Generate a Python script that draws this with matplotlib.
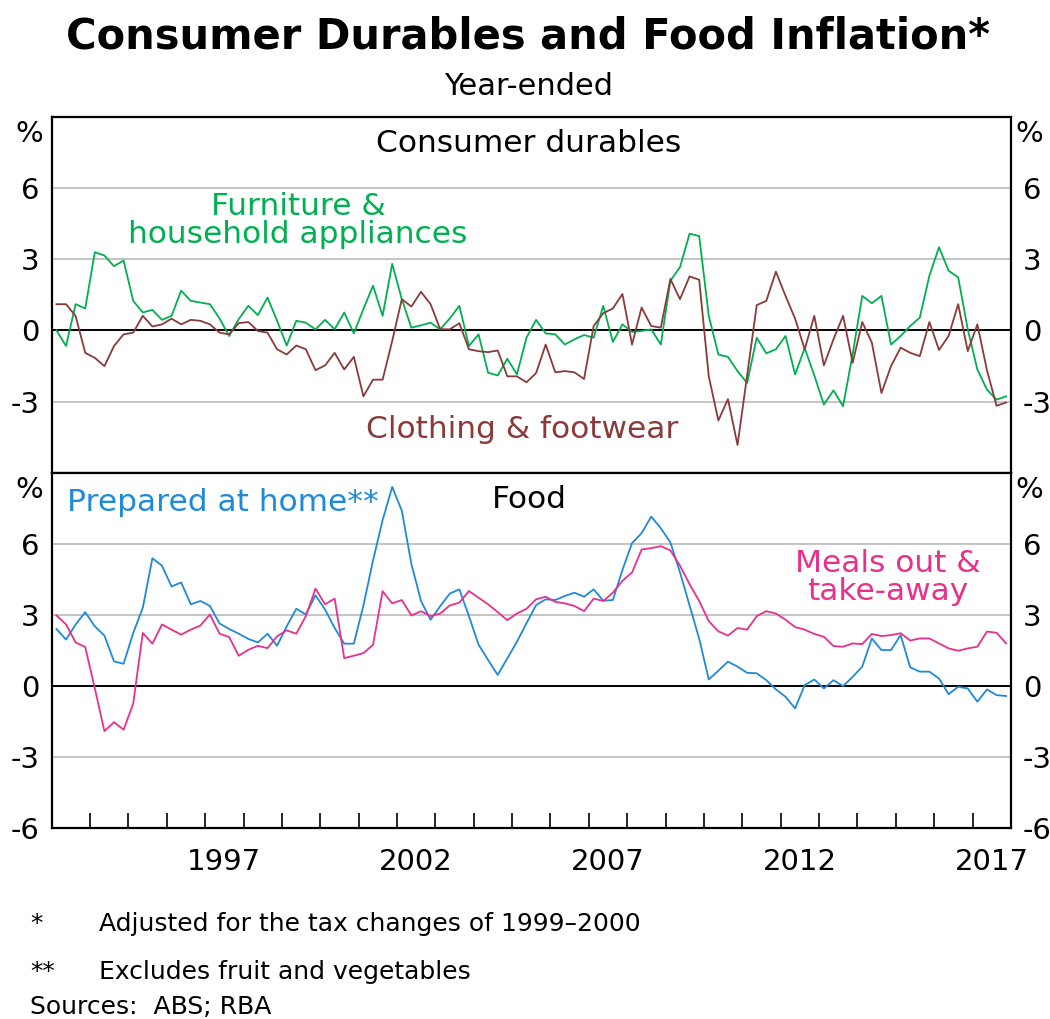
import numpy as np
import matplotlib
matplotlib.use("Agg")
import matplotlib.pyplot as plt
import matplotlib.transforms as mtransforms

plt.rcParams['font.family'] = ['DejaVu Sans']
plt.rcParams['axes.unicode_minus'] = False

# ======================
# DATA (year-ended %, quarterly, 1993Q1 - 2017Q4)
# ======================
start_year = 1993
furniture = [0.0, -0.66, 1.1, 0.92, 3.29, 3.15, 2.7, 2.94, 1.24, 0.75,
             0.86, 0.44, 0.61, 1.67, 1.24, 1.17, 1.1, 0.5, -0.24, 0.47,
             1.03, 0.64, 1.38, 0.4, -0.64, 0.4, 0.32, 0.04, 0.44, 0.04,
             0.75, -0.13, 0.9, 1.88, 0.61, 2.8, 1.31, 0.11, 0.21, 0.32,
             0.04, 0.5, 1.03, -0.66, -0.17, -1.79, -1.9, -1.2, -1.86, -0.31,
             0.44, -0.13, -0.17, -0.6, -0.38, -0.2, -0.31, 1.03, -0.49, 0.25,
             -0.07, -0.03, 0.04, -0.6, 2.09, 2.66, 4.07, 3.97, 0.61, -1.02,
             -1.12, -1.72, -2.22, -0.31, -0.97, -0.8, -0.24, -1.86, -0.75, -1.9,
             -3.13, -2.53, -3.2, -1.0, 1.45, 1.14, 1.45, -0.6, -0.24, 0.18,
             0.54, 2.3, 3.5, 2.51, 2.23, 0.04, -1.65, -2.5, -2.92, -2.78]
clothing = [1.1, 1.1, 0.6, -0.95, -1.16, -1.51, -0.66, -0.17, -0.1, 0.61,
            0.16, 0.25, 0.49, 0.25, 0.44, 0.4, 0.25, -0.1, -0.17, 0.3,
            0.35, -0.03, -0.1, -0.8, -1.02, -0.64, -0.8, -1.68, -1.48, -0.95,
            -1.65, -1.12, -2.78, -2.08, -2.08, -0.45, 1.31, 1.0, 1.62, 1.1,
            0.05, 0.04, 0.3, -0.8, -0.88, -0.92, -0.85, -1.94, -1.94, -2.19,
            -1.8, -0.6, -1.77, -1.72, -1.77, -2.05, 0.18, 0.72, 0.92, 1.53,
            -0.6, 0.96, 0.18, 0.11, 2.16, 1.31, 2.27, 2.13, -1.94, -3.8,
            -2.9, -4.83, -1.9, 1.06, 1.24, 2.47, 1.45, 0.49, -0.8, 0.61,
            -1.48, -0.38, 0.61, -1.37, 0.35, -0.52, -2.64, -1.51, -0.73, -0.95,
            -1.09, 0.35, -0.83, -0.24, 1.1, -0.88, 0.25, -1.68, -3.18, -3.04]
prepared_home = [2.41, 1.96, 2.6, 3.12, 2.52, 2.13, 1.04, 0.94, 2.24, 3.3,
                 5.39, 5.08, 4.2, 4.37, 3.45, 3.59, 3.38, 2.64, 2.41, 2.21,
                 1.99, 1.84, 2.21, 1.7, 2.52, 3.26, 3.02, 3.83, 3.23, 2.45,
                 1.79, 1.79, 3.4, 5.3, 7.0, 8.4, 7.4, 5.15, 3.59, 2.8,
                 3.37, 3.9, 4.08, 2.95, 1.75, 1.1, 0.47, 1.17, 1.87, 2.65,
                 3.42, 3.66, 3.63, 3.8, 3.94, 3.77, 4.08, 3.6, 3.63, 4.9,
                 6.03, 6.45, 7.15, 6.66, 6.06, 4.8, 3.4, 2.0, 0.28, 0.65,
                 1.03, 0.82, 0.56, 0.54, 0.25, -0.14, -0.45, -0.94, 0.04, 0.28,
                 -0.1, 0.25, 0.0, 0.39, 0.82, 2.01, 1.52, 1.52, 2.15, 0.79,
                 0.61, 0.61, 0.32, -0.34, -0.03, -0.1, -0.66, -0.14, -0.38, -0.42]
meals_out = [2.98, 2.6, 1.84, 1.65, -0.1, -1.9, -1.52, -1.84, -0.74, 2.24,
             1.79, 2.6, 2.38, 2.17, 2.38, 2.55, 3.02, 2.21, 2.07, 1.28,
             1.53, 1.7, 1.6, 2.1, 2.35, 2.21, 2.95, 4.11, 3.45, 3.69,
             1.18, 1.28, 1.39, 1.74, 4.0, 3.49, 3.63, 2.98, 3.16, 2.95,
             3.06, 3.4, 3.52, 4.01, 3.73, 3.45, 3.12, 2.78, 3.06, 3.26,
             3.66, 3.77, 3.55, 3.49, 3.38, 3.16, 3.69, 3.59, 3.94, 4.44,
             4.79, 5.76, 5.82, 5.9, 5.72, 5.08, 4.3, 3.59, 2.74, 2.31,
             2.13, 2.45, 2.38, 2.95, 3.16, 3.06, 2.8, 2.49, 2.38, 2.2,
             2.08, 1.69, 1.66, 1.8, 1.77, 2.2, 2.11, 2.15, 2.23, 1.92,
             2.01, 2.01, 1.8, 1.59, 1.49, 1.59, 1.66, 2.3, 2.25, 1.8]

year_labels = [1997, 2002, 2007, 2012, 2017]
top_yticks = [-3, 0, 3, 6]
bottom_yticks = [-6, -3, 0, 3, 6]

# quarters plotted at mid-quarter
n = len(furniture)
x = start_year + 0.125 + 0.25 * np.arange(n)

GREEN = '#00b050'
BROWN = '#8b3a3a'
BLUE = '#1f8ad8'
PINK = '#e8308c'
GRID = '#c4c4c4'
TXT = 22.5
TICK = 21
FOOT = 18

# ======================
# FIGURE
# ======================
fig = plt.figure(figsize=(10.5, 10.19), dpi=100)
ax1 = fig.add_axes([0.0492, 0.5361, 0.9136, 0.3494])
ax2 = fig.add_axes([0.0492, 0.1871, 0.9136, 0.3490])


def style_panel(ax, yticks):
    ax.set_xlim(1993, 2018)
    ax.set_ylim(-6, 9)
    for y in yticks:
        if y == 0:
            ax.axhline(0, color='black', lw=1.4, zorder=1)
        elif y > -6:
            ax.axhline(y, color=GRID, lw=1.4, zorder=0)
    ax.set_yticks(yticks)
    ax.set_yticklabels([str(v) for v in yticks])
    ax.tick_params(axis='y', left=False, right=False, labelleft=True,
                   labelright=True, labelsize=TICK, pad=5)
    for s in ax.spines.values():
        s.set_linewidth(1.6)
    trans = mtransforms.blended_transform_factory(ax.transAxes, ax.transData)
    ax.text(-0.009, 8.28, '%', transform=trans, ha='right', va='center',
            fontsize=TICK)
    ax.text(1.005, 8.28, '%', transform=trans, ha='left', va='center',
            fontsize=TICK)


style_panel(ax1, top_yticks)
style_panel(ax2, bottom_yticks)

ax1.tick_params(axis='x', which='both', bottom=False, top=False,
                labelbottom=False)

ax2.set_xticks(np.arange(start_year + 1, 2018))
ax2.set_xticklabels([])
ax2.set_xticks([y + 0.5 for y in year_labels], minor=True)
ax2.set_xticklabels([str(y) for y in year_labels], minor=True)
ax2.tick_params(axis='x', which='major', direction='in', length=10.8,
                width=1.2, top=False)
ax2.tick_params(axis='x', which='minor', length=0, labelsize=TICK, pad=14)

# lines
ax1.plot(x, furniture, color=GREEN, lw=1.3, zorder=3)
ax1.plot(x, clothing, color=BROWN, lw=1.3, zorder=3)
ax2.plot(x, prepared_home, color=BLUE, lw=1.3, zorder=3)
ax2.plot(x, meals_out, color=PINK, lw=1.3, zorder=3)

# panel titles and series labels
ax1.text(2005.44, 7.85, 'Consumer durables', ha='center', va='center',
         fontsize=TXT)
ax1.text(1999.42, 4.63, 'Furniture &\nhousehold appliances', ha='center',
         va='center', fontsize=TXT, color=GREEN, linespacing=0.95)
ax1.text(2005.27, -4.18, 'Clothing & footwear', ha='center', va='center',
         fontsize=TXT, color=BROWN)
ax2.text(2005.44, 7.88, 'Food', ha='center', va='center', fontsize=TXT)
ax2.text(1993.39, 7.75, 'Prepared at home**', ha='left', va='center',
         fontsize=TXT, color=BLUE)
ax2.text(2014.8, 4.58, 'Meals out &\ntake-away', ha='center', va='center',
         fontsize=TXT, color=PINK, linespacing=0.95)

# titles
fig.text(0.503, 0.9637, 'Consumer Durables and Food Inflation*',
         ha='center', va='center', fontsize=30, fontweight='bold')
fig.text(0.503, 0.9156, 'Year-ended', ha='center', va='center', fontsize=22)

# footnotes
fig.text(30 / 1050, 0.0937, '*', ha='left', va='center', fontsize=FOOT)
fig.text(99 / 1050, 0.0937, 'Adjusted for the tax changes of 1999\u20132000',
         ha='left', va='center', fontsize=FOOT)
fig.text(30 / 1050, 0.0466, '**', ha='left', va='center', fontsize=FOOT)
fig.text(99 / 1050, 0.0466, 'Excludes fruit and vegetables',
         ha='left', va='center', fontsize=FOOT)
fig.text(30 / 1050, 0.0118, 'Sources:  ABS; RBA', ha='left', va='center',
         fontsize=FOOT)

fig.savefig('out.png', dpi=100)
